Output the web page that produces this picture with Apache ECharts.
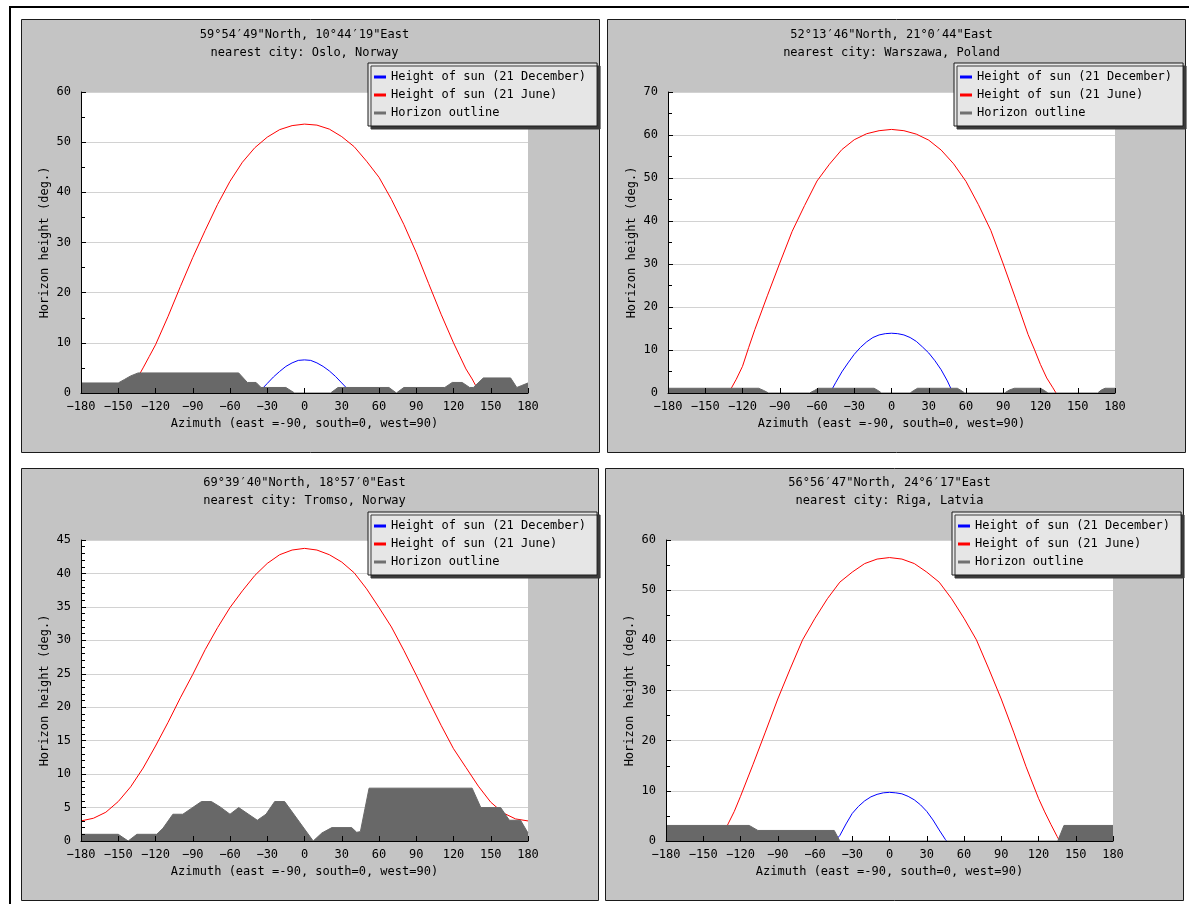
<!DOCTYPE html>
<html>
<head>
<meta charset="utf-8">
<script src="https://cdn.jsdelivr.net/npm/echarts@6/dist/echarts.min.js"></script>
<style>
html,body{margin:0;padding:0;background:#fff;}
#c{width:1189px;height:904px;}
</style>
</head>
<body>
<div id="c"></div>
<script>
// ---------- DATA ----------
const seriesNames = ['Height of sun (21 December)', 'Height of sun (21 June)', 'Horizon outline'];
const xTicks = [-180, -150, -120, -90, -60, -30, 0, 30, 60, 90, 120, 150, 180];

// Oslo
const osloCoord = '59°54′49"North, 10°44′19"East';
const osloCity = 'nearest city: Oslo, Norway';
const osloYTicks = [0, 10, 20, 30, 40, 50, 60];
const osloJune = [[-142,0],[-140,0.9],[-135,2.8],[-130,5.0],[-125,7.3],[-120,9.6],[-110,15.2],[-100,21.2],[-90,27.0],[-80,32.4],[-70,37.6],[-60,42.2],[-50,46.0],[-40,48.9],[-30,51.0],[-20,52.5],[-10,53.3],[0,53.6],[10,53.4],[20,52.6],[30,51.1],[40,49.1],[50,46.2],[60,43.0],[70,38.6],[80,33.6],[90,28.0],[100,21.8],[110,15.7],[120,10.0],[125,7.4],[130,4.8],[135,2.8],[140,0.5],[141,0]];
const osloDec = [[-37,0],[-35,0.6],[-30,1.9],[-25,3.2],[-20,4.3],[-15,5.3],[-10,6.0],[-5,6.5],[0,6.6],[5,6.5],[10,6.0],[15,5.3],[20,4.4],[25,3.3],[30,2.0],[35,0.7],[37,0]];
const osloHorizon = [[-180,2.0],[-150,2.0],[-145,2.7],[-140,3.4],[-134,4.0],[-53,4.0],[-46,2.1],[-39,2.1],[-35,1.1],[-15,1.1],[-8,0],[21,0],[27,1.1],[68,1.1],[74,0],[80,1.1],[113,1.1],[119,2.1],[127,2.1],[133,1.1],[136,1.1],[144,3.0],[166,3.0],[171,1.1],[175,1.5],[180,2.0]];

// Warszawa
const warCoord = '52°13′46"North, 21°0′44"East';
const warCity = 'nearest city: Warszawa, Poland';
const warYTicks = [0, 10, 20, 30, 40, 50, 60, 70];
const warJune = [[-131,0],[-130,0.6],[-125,3.2],[-120,6.2],[-115,10.6],[-110,14.8],[-100,22.6],[-90,30.2],[-80,37.6],[-70,43.6],[-60,49.3],[-50,53.2],[-40,56.6],[-30,58.9],[-20,60.3],[-10,61.0],[0,61.3],[10,61.0],[20,60.2],[30,58.8],[40,56.5],[50,53.3],[60,49.2],[70,43.8],[80,37.8],[90,30.0],[100,21.9],[110,13.6],[115,10.2],[120,6.6],[125,3.5],[130,1.2],[132.5,0]];
const warDec = [[-49.5,0],[-45,2.4],[-40,4.9],[-35,7.0],[-30,9.0],[-25,10.6],[-20,11.9],[-15,12.9],[-10,13.5],[-5,13.8],[0,13.9],[5,13.8],[10,13.5],[15,12.9],[20,12.0],[25,10.7],[30,9.3],[35,7.5],[40,5.4],[45,2.8],[49.5,0]];
const warHorizon = [[-180,1.1],[-107,1.1],[-103,0.6],[-99,0],[-66,0],[-62,0.6],[-59,1.1],[-14,1.1],[-11,0.6],[-8,0],[15,0],[18,0.6],[21,1.1],[53,1.1],[56,0.6],[59,0],[91,0],[95,0.7],[99,1.1],[120,1.1],[123,0.6],[126,0],[166,0],[169,0.7],[172,1.1],[180,1.1]];

// Tromso
const troCoord = '69°39′40"North, 18°57′0"East';
const troCity = 'nearest city: Tromso, Norway';
const troYTicks = [0, 5, 10, 15, 20, 25, 30, 35, 40, 45];
const troJune = [[-180,3.0],[-170,3.4],[-160,4.3],[-150,5.9],[-140,8.1],[-130,10.9],[-120,14.2],[-110,17.7],[-100,21.4],[-90,24.9],[-80,28.6],[-70,31.9],[-60,34.9],[-50,37.4],[-40,39.7],[-30,41.5],[-20,42.8],[-10,43.5],[0,43.75],[10,43.5],[20,42.8],[30,41.7],[40,40.1],[50,37.7],[60,34.9],[70,32.0],[80,28.5],[90,24.8],[100,21.0],[110,17.3],[120,13.8],[130,11.0],[140,8.2],[150,5.8],[160,4.2],[170,3.3],[180,3.0]];
const troDec = [];
const troHorizon = [[-180,1.0],[-150,1.0],[-142,0],[-135,1.0],[-119,1.0],[-114,1.9],[-106,4.0],[-98,4.0],[-83,5.9],[-75,5.9],[-68,5.1],[-60,4.0],[-53,5.0],[-38,3.1],[-31,4.0],[-24,5.9],[-16,5.9],[7,0],[14,1.2],[22,2.0],[38,2.0],[42,1.3],[45,1.4],[52,7.9],[135,7.9],[142,5.0],[158,5.0],[165,3.1],[174,3.1],[180,1.2]];

// Riga
const rigaCoord = '56°56′47"North, 24°6′17"East';
const rigaCity = 'nearest city: Riga, Latvia';
const rigaYTicks = [0, 10, 20, 30, 40, 50, 60];
const rigaJune = [[-137,0],[-135,0.9],[-130,3.4],[-125,5.9],[-120,8.9],[-110,15.2],[-100,21.7],[-90,28.3],[-80,34.3],[-70,40.1],[-60,44.4],[-50,48.3],[-40,51.6],[-30,53.6],[-20,55.3],[-10,56.2],[0,56.5],[10,56.2],[20,55.3],[30,53.6],[40,51.6],[50,48.3],[60,44.4],[70,40.1],[80,34.3],[90,28.3],[100,21.7],[110,14.8],[120,8.5],[125,5.8],[130,3.3],[135,0.9],[137,0]];
const rigaDec = [[-44,0],[-40,1.1],[-35,3.4],[-30,5.5],[-25,6.9],[-20,8.0],[-15,8.8],[-10,9.3],[-5,9.6],[0,9.7],[5,9.6],[10,9.4],[15,8.9],[20,8.2],[25,7.2],[30,5.9],[35,4.2],[40,2.2],[45,0.3],[46,0]];
const rigaHorizon = [[-180,3.1],[-113,3.1],[-106,2.1],[-44.5,2.1],[-40,0],[135.5,0],[140.5,3.1],[180,3.1]];

// ---------- LAYOUT ----------
const FONT = '"DejaVu Sans Mono", monospace';
const charts = [
  {coord: osloCoord, city: osloCity, yTicks: osloYTicks, minor: 2, dec: osloDec, june: osloJune, horizon: osloHorizon},
  {coord: warCoord, city: warCity, yTicks: warYTicks, minor: 2, dec: warDec, june: warJune, horizon: warHorizon},
  {coord: troCoord, city: troCity, yTicks: troYTicks, minor: 5, dec: troDec, june: troJune, horizon: troHorizon},
  {coord: rigaCoord, city: rigaCity, yTicks: rigaYTicks, minor: 2, dec: rigaDec, june: rigaJune, horizon: rigaHorizon}
];
const layout = [
  {px: 21.5, py: 19.5, pw: 578, ph: 433, gx: 81, gy: 92, lx: 368, ly: 63},
  {px: 607.5, py: 19.5, pw: 578, ph: 433, gx: 668, gy: 92, lx: 954, ly: 63},
  {px: 21.5, py: 468.5, pw: 577, ph: 432, gx: 81, gy: 540, lx: 368, ly: 512},
  {px: 605.5, py: 468.5, pw: 578, ph: 432, gx: 666, gy: 540, lx: 952, ly: 512}
];
const GW = 447, GH = 301;

const option = {
  animation: false,
  backgroundColor: '#ffffff',
  textStyle: {fontFamily: FONT, fontSize: 12, color: '#000'},
  graphic: {elements: [
    {type: 'rect', z: -20, silent: true, shape: {x: 9, y: 6, width: 1180, height: 2}, style: {fill: '#000'}},
    {type: 'rect', z: -20, silent: true, shape: {x: 9, y: 6, width: 2, height: 898}, style: {fill: '#000'}}
  ]},
  title: [], legend: [], grid: [], xAxis: [], yAxis: [], series: []
};

charts.forEach((c, i) => {
  const L = layout[i];
  option.graphic.elements.push({
    type: 'rect', z: -20, silent: true,
    shape: {x: L.px, y: L.py, width: L.pw, height: L.ph},
    style: {fill: '#c4c4c4', stroke: '#1a1a1a', lineWidth: 1}
  });
  option.title.push({
    text: c.coord + '\n' + c.city,
    left: L.gx + GW / 2, top: L.gy - 66, textAlign: 'center', padding: 0,
    textStyle: {fontFamily: FONT, fontSize: 12, fontWeight: 'normal', color: '#000', lineHeight: 18}
  });
  option.legend.push({
    show: true, orient: 'vertical', left: L.lx, top: L.ly, z: 20,
    padding: [7, 11, 6, 6], itemGap: 4, itemWidth: 12, itemHeight: 3, icon: 'rect',
    selectedMode: false, backgroundColor: '#e6e6e6', borderColor: '#1a1a1a', borderWidth: 1,
    shadowColor: '#3a3a3a', shadowOffsetX: 3, shadowOffsetY: 3, shadowBlur: 0,
    textStyle: {fontFamily: FONT, fontSize: 12, color: '#000', lineHeight: 14},
    data: seriesNames
  });
  option.grid.push({
    left: L.gx, top: L.gy, width: GW, height: GH, show: true, backgroundColor: '#ffffff',
    borderWidth: 0, containLabel: false, outerBoundsMode: 'none'
  });
  option.xAxis.push({
    type: 'value', gridIndex: i, position: 'bottom', min: xTicks[0], max: xTicks[xTicks.length - 1],
    interval: xTicks[1] - xTicks[0], z: 10,
    axisLine: {show: true, onZero: false, lineStyle: {color: '#000', width: 1}},
    axisTick: {show: true, inside: true, length: 5, lineStyle: {color: '#000'}},
    axisLabel: {margin: 8, color: '#000', fontFamily: FONT, fontSize: 12,
      formatter: v => String(v).replace('-', '\u2212')},
    splitLine: {show: false},
    name: 'Azimuth (east =-90, south=0, west=90)', nameLocation: 'middle', nameGap: 25,
    nameTextStyle: {fontFamily: FONT, fontSize: 12, color: '#000'}
  });
  const yMin = c.yTicks[0], yMax = c.yTicks[c.yTicks.length - 1], yInt = c.yTicks[1] - c.yTicks[0];
  // grid lines (under the series)
  option.yAxis.push({
    type: 'value', gridIndex: i, position: 'left', offset: 0, min: yMin, max: yMax, interval: yInt, z: 0,
    axisLine: {show: false}, axisTick: {show: false}, axisLabel: {show: false},
    splitLine: {show: true, lineStyle: {color: '#d2d2d2', width: 1}}
  });
  // axis line, ticks, labels (over the series)
  option.yAxis.push({
    type: 'value', gridIndex: i, position: 'left', offset: 0, min: yMin, max: yMax, interval: yInt, z: 10,
    axisLine: {show: true, onZero: false, lineStyle: {color: '#000', width: 1}},
    axisTick: {show: true, inside: true, length: 5, lineStyle: {color: '#000'}},
    minorTick: {show: true, splitNumber: c.minor, length: 4, lineStyle: {color: '#000'}},
    axisLabel: {margin: 10, color: '#000', fontFamily: FONT, fontSize: 12},
    splitLine: {show: false},
    name: 'Horizon height (deg.)', nameLocation: 'middle', nameGap: 30, nameRotate: 90,
    nameTextStyle: {fontFamily: FONT, fontSize: 12, color: '#000'}
  });
  const common = {type: 'line', xAxisIndex: i, yAxisIndex: 2 * i, symbol: 'none', showSymbol: false, silent: true, smooth: false};
  option.series.push(Object.assign({}, common, {
    name: seriesNames[0], data: c.dec, z: 2, color: '#0000ff',
    itemStyle: {color: '#0000ff'}, lineStyle: {color: '#0000ff', width: 1}
  }));
  option.series.push(Object.assign({}, common, {
    name: seriesNames[1], data: c.june, z: 2, color: '#ff0000',
    itemStyle: {color: '#ff0000'}, lineStyle: {color: '#ff0000', width: 1}
  }));
  option.series.push(Object.assign({}, common, {
    name: seriesNames[2], data: c.horizon, z: 3, color: '#707070',
    itemStyle: {color: '#707070'}, lineStyle: {color: '#686868', width: 1},
    areaStyle: {color: '#686868', opacity: 1}
  }));
});

const chart = echarts.init(document.getElementById('c'), null, {renderer: 'canvas'});
chart.setOption(option);
</script>
</body>
</html>
